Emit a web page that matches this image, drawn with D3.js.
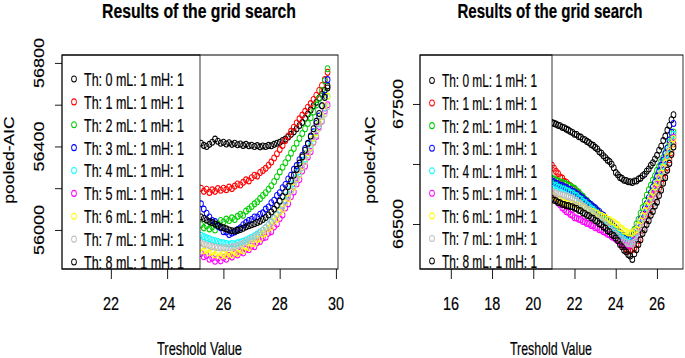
<!DOCTYPE html>
<html>
<head>
<meta charset="utf-8">
<script src="https://cdn.jsdelivr.net/npm/d3@7"></script>
<style>
  body { margin: 0; background: #fff; }
  svg { display: block; }
</style>
</head>
<body>
<div id="chart"></div>
<script>
// ---- data ----
var seriesLabels = ["Th: 0 mL: 1 mH: 1", "Th: 1 mL: 1 mH: 1", "Th: 2 mL: 1 mH: 1",
  "Th: 3 mL: 1 mH: 1", "Th: 4 mL: 1 mH: 1", "Th: 5 mL: 1 mH: 1",
  "Th: 6 mL: 1 mH: 1", "Th: 7 mL: 1 mH: 1", "Th: 8 mL: 1 mH: 1"];
// R default palette, recycled for Th 8
var seriesColors = ["#000000", "#FF0000", "#00CD00", "#0000FF", "#00FFFF",
  "#FF00FF", "#FFFF00", "#BEBEBE", "#000000"];

// left panel
var thrLeft = [25.2, 25.3, 25.4, 25.5, 25.6, 25.7, 25.8, 25.9, 26.0, 26.1,
  26.2, 26.3, 26.4, 26.5, 26.6, 26.7, 26.8, 26.9, 27.0, 27.1,
  27.2, 27.3, 27.4, 27.5, 27.6, 27.7, 27.8, 27.9, 28.0, 28.1,
  28.2, 28.3, 28.4, 28.5, 28.6, 28.7, 28.8, 28.9, 29.0, 29.1,
  29.2, 29.3, 29.4, 29.5, 29.6, 29.7];
var aicLeft0 = [56415, 56405, 56400, 56410, 56420, 56435, 56425, 56415, 56420, 56412,
  56418, 56410, 56415, 56408, 56412, 56405, 56410, 56403, 56406, 56400,
  56404, 56398, 56402, 56400, 56405, 56403, 56410, 56415, 56420, 56428,
  56435, 56445, 56458, 56470, 56485, 56500, 56515, 56535, 56555, 56575,
  56595, 56612, 56632, 56650, 56668, 56690];
var aicLeft1 = [56200, 56185, 56195, 56180, 56192, 56185, 56198, 56190, 56200, 56193,
  56205, 56198, 56210, 56220, 56215, 56228, 56240, 56235, 56250, 56262,
  56258, 56275, 56285, 56295, 56310, 56325, 56345, 56365, 56385, 56405,
  56428, 56450, 56472, 56492, 56512, 56532, 56550, 56568, 56588, 56605,
  56625, 56645, 56668, 56692, 56720, 56755];
var aicLeft2 = [56025, 56010, 56020, 56005, 56015, 56000, 56030, 56045, 56038, 56052,
  56045, 56058, 56050, 56065, 56075, 56070, 56090, 56100, 56112, 56125,
  56135, 56150, 56165, 56178, 56195, 56212, 56232, 56255, 56278, 56300,
  56322, 56345, 56368, 56390, 56415, 56438, 56462, 56485, 56510, 56538,
  56565, 56598, 56630, 56668, 56715, 56772];
var aicLeft3 = [56125, 56100, 56080, 56062, 56045, 56040, 56018, 56010, 55992, 55990,
  55978, 55985, 55990, 56002, 56010, 56025, 56035, 56045, 56050, 56062,
  56062, 56075, 56082, 56100, 56110, 56130, 56142, 56165, 56178, 56202,
  56218, 56244, 56262, 56290, 56308, 56336, 56358, 56390, 56412, 56445,
  56470, 56510, 56545, 56595, 56645, 56720];
var aicLeft4 = [55975, 55968, 55962, 55958, 55952, 55948, 55945, 55940, 55938, 55935,
  55932, 55935, 55933, 55938, 55942, 55946, 55952, 55958, 55965, 55972,
  55980, 55990, 56000, 56012, 56025, 56040, 56056, 56074, 56095, 56118,
  56142, 56168, 56195, 56222, 56250, 56280, 56310, 56340, 56372, 56405,
  56438, 56472, 56508, 56545, 56585, 56640];
var aicLeft5 = [55888, 55872, 55878, 55860, 55866, 55850, 55864, 55852, 55868, 55860,
  55878, 55870, 55886, 55880, 55895, 55890, 55908, 55905, 55922, 55920,
  55940, 55945, 55962, 55965, 55985, 55992, 56015, 56028, 56055, 56072,
  56105, 56125, 56160, 56182, 56220, 56242, 56282, 56305, 56350, 56375,
  56420, 56448, 56495, 56522, 56570, 56600];
var aicLeft6 = [55915, 55900, 55905, 55890, 55895, 55880, 55890, 55875, 55885, 55878,
  55888, 55880, 55895, 55888, 55905, 55900, 55918, 55915, 55935, 55935,
  55955, 55958, 55980, 55985, 56008, 56015, 56042, 56052, 56085, 56098,
  56130, 56150, 56186, 56205, 56244, 56265, 56305, 56328, 56370, 56395,
  56440, 56466, 56512, 56545, 56595, 56640];
var aicLeft7 = [55938, 55932, 55928, 55925, 55920, 55918, 55915, 55914, 55915, 55913,
  55916, 55918, 55920, 55925, 55930, 55936, 55942, 55950, 55958, 55966,
  55975, 55986, 55998, 56010, 56024, 56038, 56055, 56072, 56092, 56112,
  56135, 56160, 56185, 56212, 56240, 56268, 56298, 56328, 56358, 56390,
  56422, 56455, 56488, 56520, 56555, 56590];
var aicLeft8 = [56062, 56055, 56048, 56040, 56035, 56028, 56022, 56015, 56010, 56005,
  56000, 55996, 55995, 55998, 56002, 56008, 56015, 56020, 56025, 56030,
  56036, 56042, 56050, 56060, 56072, 56086, 56100, 56118, 56138, 56160,
  56182, 56208, 56235, 56262, 56290, 56320, 56350, 56382, 56415, 56450,
  56485, 56520, 56558, 56595, 56635, 56680];

// right panel
var thrRight = [20.9, 21.0, 21.1, 21.2, 21.3, 21.4, 21.5, 21.6, 21.7, 21.8,
  21.9, 22.0, 22.1, 22.2, 22.3, 22.4, 22.5, 22.6, 22.7, 22.8,
  22.9, 23.0, 23.1, 23.2, 23.3, 23.4, 23.5, 23.6, 23.7, 23.8,
  23.9, 24.0, 24.1, 24.2, 24.3, 24.4, 24.5, 24.6, 24.7, 24.8,
  24.9, 25.0, 25.1, 25.2, 25.3, 25.4, 25.5, 25.6, 25.7, 25.8,
  25.9, 26.0, 26.1, 26.2, 26.3, 26.4, 26.5, 26.6, 26.7, 26.8];
var aicRight0 = [67345, 67338, 67332, 67322, 67318, 67305, 67302, 67290, 67282, 67270,
  67262, 67248, 67245, 67228, 67224, 67208, 67202, 67188, 67178, 67162,
  67155, 67138, 67125, 67102, 67090, 67068, 67052, 67032, 67020, 66998,
  66968, 66928, 66910, 66888, 66880, 66865, 66862, 66852, 66852, 66846,
  66858, 66858, 66875, 66882, 66902, 66915, 66940, 66958, 66988, 67010,
  67042, 67072, 67115, 67148, 67195, 67232, 67282, 67320, 67368, 67410];
var aicRight1 = [66990, 66965, 66938, 66920, 66892, 66882, 66855, 66848, 66828, 66818,
  66798, 66788, 66766, 66756, 66733, 66720, 66697, 66686, 66664, 66650,
  66628, 66614, 66591, 66576, 66550, 66536, 66509, 66493, 66467, 66450,
  66423, 66407, 66378, 66358, 66330, 66314, 66290, 66280, 66274, 66287,
  66300, 66330, 66362, 66408, 66448, 66498, 66540, 66587, 66626, 66672,
  66710, 66757, 66794, 66840, 66880, 66929, 66972, 67035, 67095, 67168];
var aicRight2 = [66880, 66874, 66862, 66860, 66848, 66847, 66836, 66832, 66820, 66817,
  66803, 66797, 66777, 66766, 66744, 66730, 66708, 66696, 66675, 66660,
  66639, 66624, 66605, 66592, 66570, 66558, 66535, 66521, 66499, 66484,
  66461, 66447, 66428, 66417, 66401, 66394, 66381, 66380, 66393, 66422,
  66453, 66500, 66538, 66590, 66636, 66692, 66740, 66785, 66822, 66866,
  66902, 66947, 66978, 67018, 67052, 67095, 67133, 67177, 67216, 67267];
var aicRight3 = [66860, 66852, 66839, 66835, 66822, 66820, 66808, 66803, 66791, 66787,
  66773, 66767, 66751, 66744, 66726, 66716, 66698, 66690, 66673, 66662,
  66645, 66634, 66616, 66604, 66583, 66572, 66550, 66537, 66516, 66502,
  66480, 66467, 66444, 66431, 66411, 66400, 66385, 66380, 66383, 66402,
  66423, 66460, 66492, 66538, 66578, 66628, 66670, 66719, 66760, 66808,
  66848, 66897, 66938, 66988, 67032, 67085, 67133, 67200, 67263, 67337];
var aicRight4 = [66835, 66818, 66820, 66805, 66802, 66790, 66792, 66778, 66775, 66760,
  66758, 66742, 66735, 66716, 66708, 66688, 66678, 66660, 66650, 66630,
  66620, 66600, 66590, 66570, 66558, 66538, 66524, 66502, 66490, 66468,
  66454, 66432, 66418, 66398, 66385, 66368, 66358, 66348, 66352, 66365,
  66390, 66425, 66462, 66505, 66548, 66592, 66635, 66678, 66720, 66762,
  66805, 66848, 66890, 66935, 66980, 67028, 67078, 67130, 67188, 67245];
var aicRight5 = [66750, 66722, 66705, 66675, 66660, 66635, 66620, 66603, 66597, 66580,
  66572, 66552, 66550, 66540, 66536, 66521, 66518, 66505, 66503, 66487,
  66485, 66469, 66468, 66453, 66449, 66435, 66430, 66414, 66410, 66393,
  66388, 66372, 66364, 66346, 66341, 66325, 66325, 66315, 66328, 66338,
  66368, 66395, 66437, 66473, 66523, 66563, 66615, 66654, 66705, 66743,
  66793, 66832, 66880, 66917, 66967, 67007, 67062, 67108, 67169, 67222];
var aicRight6 = [66743, 66726, 66721, 66705, 66700, 66685, 66681, 66673, 66677, 66670,
  66672, 66662, 66662, 66651, 66649, 66635, 66633, 66621, 66620, 66605,
  66604, 66589, 66589, 66575, 66572, 66559, 66555, 66540, 66537, 66521,
  66517, 66502, 66491, 66469, 66461, 66442, 66438, 66425, 66425, 66422,
  66440, 66455, 66493, 66525, 66571, 66607, 66655, 66688, 66733, 66765,
  66809, 66842, 66887, 66922, 66970, 67007, 67059, 67103, 67162, 67212];
var aicRight7 = [66773, 66761, 66762, 66750, 66750, 66741, 66742, 66730, 66730, 66718,
  66716, 66702, 66696, 66679, 66671, 66651, 66643, 66625, 66618, 66597,
  66590, 66569, 66562, 66541, 66531, 66511, 66500, 66478, 66468, 66445,
  66434, 66412, 66401, 66379, 66371, 66352, 66348, 66335, 66335, 66332,
  66350, 66365, 66395, 66419, 66457, 66485, 66525, 66558, 66603, 66635,
  66679, 66712, 66763, 66803, 66857, 66900, 66958, 67012, 67081, 67142];
var aicRight8 = [66712, 66698, 66694, 66680, 66676, 66664, 66661, 66651, 66653, 66644,
  66644, 66632, 66629, 66615, 66610, 66593, 66588, 66573, 66569, 66551,
  66547, 66529, 66523, 66503, 66494, 66475, 66465, 66444, 66435, 66413,
  66403, 66382, 66361, 66329, 66311, 66282, 66268, 66245, 66233, 66205,
  66252, 66286, 66330, 66368, 66421, 66452, 66495, 66528, 66573, 66605,
  66649, 66682, 66737, 66781, 66839, 66886, 66948, 67005, 67078, 67142];

// axis limits and ticks
var xlimLeft = [20.26, 30.07];
var ylimLeft = [55813, 56838];
var xTicksLeft = [22, 24, 26, 28, 30];
var yTicksLeft = [56000, 56200, 56400, 56600, 56800];
var yLabelsLeft = [56000, 56400, 56800];

var xlimRight = [14.5, 27.26];
var ylimRight = [66125, 67908];
var xTicksRight = [16, 18, 20, 22, 24, 26];
var yTicksRight = [66500, 67000, 67500];
var yLabelsRight = [66500, 67500];

// ---- drawing ----
var SX = 0.8;   // the picture is squeezed sideways, so draw wide and scale x
var width = 685;
var height = 358;
var font = "'Liberation Sans', Arial, Helvetica, sans-serif";
var pointR = 3.0;
var textStroke = 0.2;

var svg = d3.select("#chart")
  .append("svg")
  .attr("width", width)
  .attr("height", height);

var root = svg.append("g")
  .attr("transform", "scale(" + SX + ",1)");

var panels = [
  {
    left: 62, right: 338, top: 55, bottom: 269, legRight: 200,
    xlim: xlimLeft, ylim: ylimLeft, xTicks: xTicksLeft, yTicks: yTicksLeft, yLabels: yLabelsLeft,
    thr: thrLeft,
    series: [aicLeft0, aicLeft1, aicLeft2, aicLeft3, aicLeft4, aicLeft5, aicLeft6, aicLeft7, aicLeft8],
    legSym: 74, legText: 84, legTextW: 100, legTop: 79, legBottom: 262,
    titleX: 199, titleW: 194, xTitleX: 199.5, xTitleW: 85, yTitleX: 14, yLabX: 44
  },
  {
    left: 420, right: 683, top: 55, bottom: 269, legRight: 552,
    xlim: xlimRight, ylim: ylimRight, xTicks: xTicksRight, yTicks: yTicksRight, yLabels: yLabelsRight,
    thr: thrRight,
    series: [aicRight0, aicRight1, aicRight2, aicRight3, aicRight4, aicRight5, aicRight6, aicRight7, aicRight8],
    legSym: 432, legText: 442, legTextW: 95, legTop: 80.5, legBottom: 261,
    titleX: 550, titleW: 185, xTitleX: 551, xTitleW: 82, yTitleX: 375, yLabX: 403
  }
];

function addText(sel, size, weight) {
  return sel
    .style("font-family", font)
    .style("font-size", size + "px")
    .style("font-weight", weight || "normal")
    .style("fill", "#000")
    .style("stroke", "#000")
    .style("stroke-width", textStroke);
}

panels.forEach(function(p) {
  var x = d3.scaleLinear().domain(p.xlim).range([p.left / SX, p.right / SX]);
  var y = d3.scaleLinear().domain(p.ylim).range([p.bottom, p.top]);
  var g = root.append("g");

  //points, Th 0 first so Th 8 ends up on top
  p.series.forEach(function(vals, k) {
    g.append("g")
      .selectAll("circle")
      .data(p.thr.map(function(t, i) { return [t, vals[i]]; }))
      .enter()
      .append("circle")
      .attr("cx", function(d) { return x(d[0]); })
      .attr("cy", function(d) { return y(d[1]); })
      .attr("r", pointR)
      .style("fill", "none")
      .style("stroke", seriesColors[k])
      .style("stroke-width", 1.1);
  });

  //legend (white box over the points)
  g.append("rect")
    .attr("x", p.left / SX)
    .attr("y", p.top)
    .attr("width", (p.legRight - p.left) / SX)
    .attr("height", p.bottom - p.top)
    .style("fill", "#ffffff")
    .style("stroke", "#000000")
    .style("stroke-width", 1);

  var row = d3.scalePoint().domain(d3.range(seriesLabels.length)).range([p.legTop, p.legBottom]);

  g.append("g").selectAll("circle")
    .data(seriesLabels)
    .enter()
    .append("circle")
    .attr("cx", p.legSym / SX)
    .attr("cy", function(d, i) { return row(i); })
    .attr("r", pointR)
    .style("fill", "none")
    .style("stroke", function(d, i) { return seriesColors[i]; })
    .style("stroke-width", 1.1);

  addText(g.append("g").selectAll("text")
    .data(seriesLabels)
    .enter()
    .append("text")
    .attr("x", p.legText / SX)
    .attr("y", function(d, i) { return row(i) + 7; })
    .attr("textLength", p.legTextW / SX)
    .attr("lengthAdjust", "spacingAndGlyphs")
    .text(function(d) { return d; }), 17.5);

  //plot box
  g.append("rect")
    .attr("x", p.left / SX)
    .attr("y", p.top)
    .attr("width", (p.right - p.left) / SX)
    .attr("height", p.bottom - p.top)
    .style("fill", "none")
    .style("stroke", "#000000")
    .style("stroke-width", 1);

  //axes: ticks from d3, labels placed by hand (R style)
  g.append("g")
    .attr("transform", "translate(" + (p.left / SX) + ",0)")
    .call(d3.axisLeft(y).tickValues(p.yTicks).tickSize(7 / SX).tickFormat(""))
    .call(function(a) { a.select(".domain").remove(); });

  g.append("g")
    .attr("transform", "translate(0," + p.bottom + ")")
    .call(d3.axisBottom(x).tickValues(p.xTicks).tickSize(10).tickFormat(""))
    .call(function(a) { a.select(".domain").remove(); });

  addText(g.append("g").selectAll("text")
    .data(p.xTicks)
    .enter()
    .append("text")
    .attr("x", function(d) { return x(d); })
    .attr("y", 310)
    .attr("text-anchor", "middle")
    .text(function(d) { return d; }), 18);

  addText(g.append("g").selectAll("text")
    .data(p.yLabels)
    .enter()
    .append("text")
    .attr("transform", function(d) { return "translate(" + (p.yLabX / SX) + "," + y(d) + ") rotate(-90)"; })
    .attr("text-anchor", "middle")
    .text(function(d) { return d; }), 18);

  //titles
  addText(g.append("text")
    .attr("x", p.titleX / SX)
    .attr("y", 18.5)
    .attr("text-anchor", "middle")
    .attr("textLength", p.titleW / SX)
    .attr("lengthAdjust", "spacingAndGlyphs")
    .text("Results of the grid search"), 20, "bold");

  addText(g.append("text")
    .attr("x", p.xTitleX / SX)
    .attr("y", 355)
    .attr("text-anchor", "middle")
    .attr("textLength", p.xTitleW / SX)
    .attr("lengthAdjust", "spacingAndGlyphs")
    .text("Treshold Value"), 17.5);

  addText(g.append("text")
    .attr("transform", "translate(" + (p.yTitleX / SX) + ",160) rotate(-90)")
    .attr("text-anchor", "middle")
    .text("pooled-AIC"), 17.5);
});
</script>
</body>
</html>
